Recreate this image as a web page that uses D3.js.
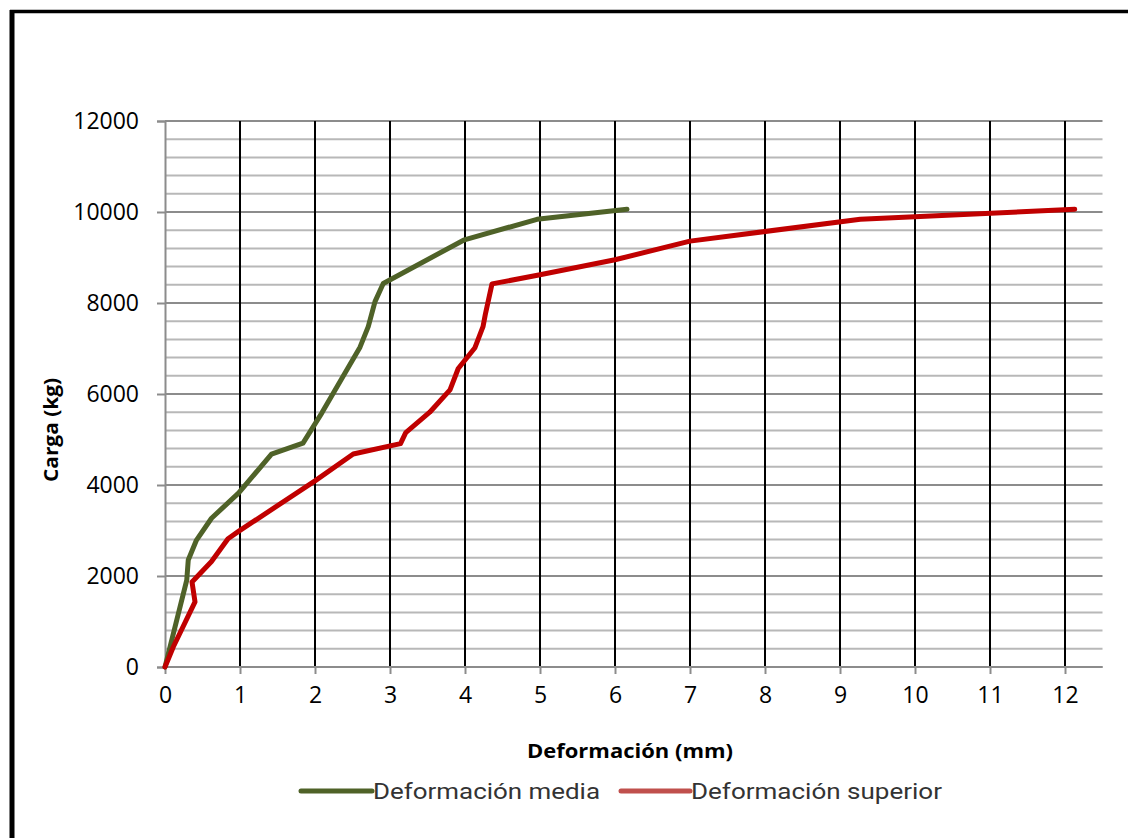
<!DOCTYPE html>
<html>
<head>
<meta charset="utf-8">
<script src="https://cdn.jsdelivr.net/npm/d3@7"></script>
<style>
html,body{margin:0;padding:0;background:#fff;}
svg{display:block;}
</style>
</head>
<body>
<svg id="chart" width="1128" height="838"></svg>
<script>
// Data
const seriesNames = ["Deformación media", "Deformación superior"];
const mediaX = [0, 0.29, 0.31, 0.42, 0.62, 0.98, 1.42, 1.84, 2.09, 2.60, 2.71, 2.80, 2.91, 3.98, 4.96, 6.16];
const mediaY = [0, 1910, 2350, 2790, 3270, 3820, 4680, 4920, 5580, 7030, 7480, 8030, 8430, 9380, 9840, 10060];
const superiorX = [0, 0.11, 0.40, 0.36, 0.62, 0.84, 0.98, 2.00, 2.51, 3.14, 3.21, 3.53, 3.80, 3.91, 4.13, 4.24, 4.27, 4.36, 5.00, 6.00, 7.00, 9.27, 12.13];
const superiorY = [0, 440, 1430, 1870, 2320, 2820, 2980, 4090, 4680, 4910, 5150, 5600, 6090, 6560, 7010, 7480, 7740, 8420, 8620, 8950, 9360, 9840, 10060];
const xTicks = [0,1,2,3,4,5,6,7,8,9,10,11,12];
const yTicks = [0,2000,4000,6000,8000,10000,12000];
const yMinorTicks = d3.range(0, 12001, 400);
const xLabel = "Deformación (mm)";
const yLabel = "Carga (kg)";
const colors = ["#4f6228", "#c00000"];
const legendColors = ["#4f6228", "#c0504d"];

const svg = d3.select("#chart");
const pLeft = 165, pRight = 1102.5, pTop = 121, pBottom = 667;
const x = d3.scaleLinear().domain([0, 12.5]).range([pLeft, pRight]);
const y = d3.scaleLinear().domain([0, 12000]).range([pBottom, pTop]);

// outer frame (left & top visible)
svg.append("rect").attr("x", 0).attr("y", 0).attr("width", 1128).attr("height", 838).attr("fill", "#fff");
svg.append("line").attr("x1", 12).attr("x2", 12).attr("y1", 10).attr("y2", 838).attr("stroke", "#000").attr("stroke-width", 5);
svg.append("line").attr("x1", 10).attr("x2", 1128).attr("y1", 11.5).attr("y2", 11.5).attr("stroke", "#000").attr("stroke-width", 3.5);

// horizontal grid (minor & major)
svg.append("g").selectAll("line").data(yMinorTicks).join("line")
  .attr("x1", pLeft).attr("x2", pRight)
  .attr("y1", d => y(d)).attr("y2", d => y(d))
  .attr("stroke", d => d % 2000 === 0 ? "#8c8c8c" : "#b8b8b8")
  .attr("stroke-width", 2);

// vertical grid (black)
svg.append("g").selectAll("line").data(xTicks.filter(d => d > 0)).join("line")
  .attr("x1", d => x(d)).attr("x2", d => x(d))
  .attr("y1", pTop).attr("y2", pBottom)
  .attr("stroke", "#000").attr("stroke-width", 2);

// Y axis
const yAxis = d3.axisLeft(y).tickValues(yTicks).tickSize(8).tickPadding(18).tickFormat(d3.format("d"));
const gy = svg.append("g").attr("transform", `translate(${pLeft},0)`).call(yAxis);
gy.select(".domain").attr("stroke", "#8c8c8c").attr("stroke-width", 2);
gy.selectAll(".tick line").attr("stroke", "#8c8c8c").attr("stroke-width", 2);
gy.selectAll(".tick text").attr("font-family", "Open Sans, sans-serif").attr("font-size", 23).attr("fill", "#000");

// X axis
const xAxis = d3.axisBottom(x).tickValues(xTicks).tickSize(7).tickPadding(13);
const gx = svg.append("g").attr("transform", `translate(0,${pBottom})`).call(xAxis);
gx.select(".domain").attr("stroke", "#8c8c8c").attr("stroke-width", 2).attr("d", `M${pLeft},0H${pRight}`);
gx.selectAll(".tick line").attr("stroke", "#8c8c8c").attr("stroke-width", 2);
gx.selectAll(".tick text").attr("font-family", "Open Sans, sans-serif").attr("font-size", 23).attr("fill", "#000");

// Lines
const line = d3.line().x(d => x(d[0])).y(d => y(d[1]));
const series = [d3.zip(mediaX, mediaY), d3.zip(superiorX, superiorY)];
series.forEach((s, i) => {
  svg.append("path").datum(s).attr("d", line)
    .attr("fill", "none").attr("stroke", colors[i]).attr("stroke-width", 5)
    .attr("stroke-linejoin", "round").attr("stroke-linecap", "round");
});

// Axis titles
svg.append("text").attr("x", 630).attr("y", 758).attr("text-anchor", "middle")
  .attr("font-family", "Open Sans, sans-serif").attr("font-weight", "bold").attr("font-size", 20)
  .attr("textLength", 206).attr("lengthAdjust", "spacingAndGlyphs")
  .text(xLabel);
svg.append("text").attr("transform", "translate(58,430) rotate(-90)").attr("text-anchor", "middle")
  .attr("font-family", "Open Sans, sans-serif").attr("font-weight", "bold").attr("font-size", 20)
  .attr("textLength", 104).attr("lengthAdjust", "spacingAndGlyphs")
  .text(yLabel);

// Legend
const legendItems = [
  {name: seriesNames[0], color: legendColors[0], x1: 301, x2: 372, tx: 373, tw: 227},
  {name: seriesNames[1], color: legendColors[1], x1: 621, x2: 690, tx: 691, tw: 251}
];
const lg = svg.append("g");
legendItems.forEach(it => {
  lg.append("line").attr("x1", it.x1).attr("x2", it.x2).attr("y1", 791).attr("y2", 791)
    .attr("stroke", it.color).attr("stroke-width", 5).attr("stroke-linecap", "round");
  lg.append("text").attr("x", it.tx).attr("y", 799)
    .attr("font-family", "Liberation Sans Narrow, Roboto, sans-serif").attr("font-size", 22).attr("fill", "#333")
    .attr("textLength", it.tw).attr("lengthAdjust", "spacingAndGlyphs")
    .text(it.name);
});
</script>
</body>
</html>
